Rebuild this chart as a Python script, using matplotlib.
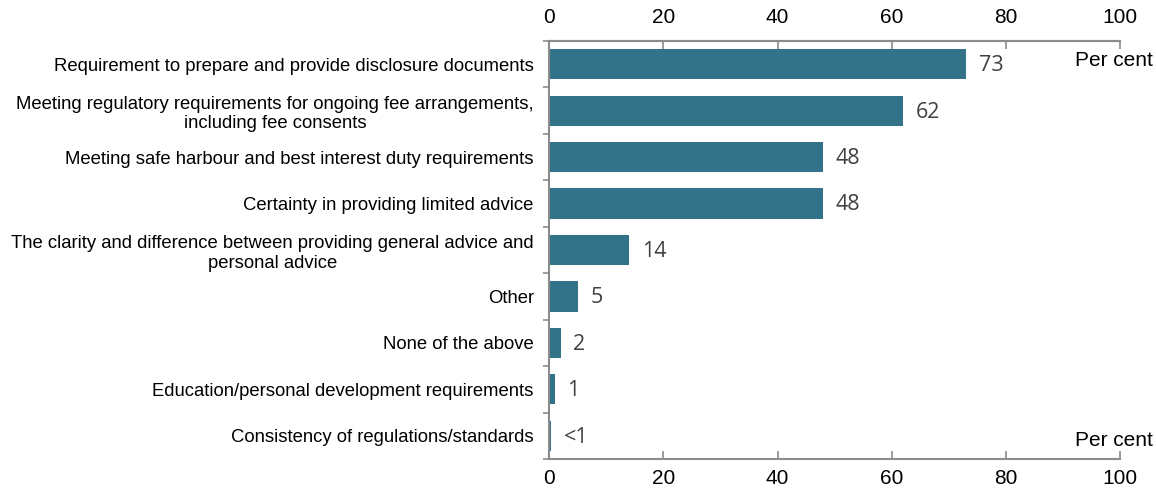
import matplotlib.pyplot as plt
import numpy as np

plt.rcParams["font.family"] = ["Liberation Sans", "DejaVu Sans"]

categories = ["Requirement to prepare and provide disclosure documents",
              "Meeting regulatory requirements for ongoing fee arrangements,\nincluding fee consents",
              "Meeting safe harbour and best interest duty requirements",
              "Certainty in providing limited advice",
              "The clarity and difference between providing general advice and\npersonal advice",
              "Other",
              "None of the above",
              "Education/personal development requirements",
              "Consistency of regulations/standards"]
values = [73, 62, 48, 48, 14, 5, 2, 1, 0.3]
value_labels = ["73", "62", "48", "48", "14", "5", "2", "1", "<1"]
xticks = [0, 20, 40, 60, 80, 100]

bar_color = "#32738A"
axis_color = "#8C8C8C"

fig = plt.figure(figsize=(11.56, 4.95), dpi=100)
ax = fig.add_axes([0.475, 0.0727, 0.494, 0.8445])

y = np.arange(len(categories))
ax.barh(y, values, height=0.65, color=bar_color, zorder=2)

for yi, v, lab in zip(y, values, value_labels):
    ax.text(v + 2.2, yi + 0.03, lab, va="center", ha="left", fontsize=15.5,
            family=["Open Sans", "DejaVu Sans"], color="#404040")

ax.set_xlim(0, 100)
ax.set_ylim(8.47, -0.45)
ax.set_xticks(xticks)
ax.set_yticks(y)
ax.set_yticklabels(categories, fontsize=13.3)
for t in ax.get_yticklabels():
    t.set_multialignment("center")
ax.set_yticks(np.arange(-0.5, 9, 1), minor=True)

ax.tick_params(axis="x", direction="in", length=6, width=1.2, color=axis_color,
               labelsize=15, pad=7)
ax.tick_params(axis="y", which="major", length=0, pad=11)
ax.tick_params(axis="y", which="minor", direction="out", length=4, width=1.2, color=axis_color)

# top axis, same scale
top = ax.secondary_xaxis("top")
top.set_xticks(xticks)
top.tick_params(direction="in", length=6, width=1.2, color=axis_color,
                labelsize=15, pad=10)
top.spines["top"].set_color(axis_color)
top.spines["top"].set_linewidth(1.5)

for s in ["top", "bottom", "left"]:
    ax.spines[s].set_color(axis_color)
    ax.spines[s].set_linewidth(1.5)
ax.spines["right"].set_visible(False)

fig.text(0.997, 1 - 60 / 495, "Per cent", ha="right", va="center", fontsize=15)
fig.text(0.997, 1 - 440 / 495, "Per cent", ha="right", va="center", fontsize=15)

fig.savefig("out.png", dpi=100)
